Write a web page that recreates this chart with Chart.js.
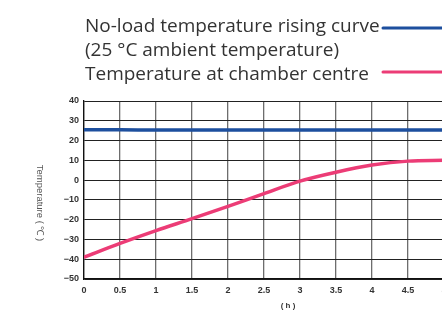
<!DOCTYPE html>
<html>
<head>
<meta charset="utf-8">
<script src="https://cdn.jsdelivr.net/npm/chart.js@4"></script>
<style>
html,body{margin:0;padding:0;background:#fff;overflow:hidden;width:442px;height:311px;}
#wrap{position:absolute;left:0;top:0;width:460px;height:311px;}
</style>
</head>
<body>
<div id="wrap"><canvas id="c" width="460" height="311"></canvas></div>
<script>
// ---- data ----
const hours = [0, 0.5, 1, 1.5, 2, 2.5, 3, 3.5, 4, 4.5, 5];
const noLoadTemp = [25.5, 25.5, 25.3, 25.3, 25.3, 25.3, 25.3, 25.3, 25.3, 25.3, 25.3];
const chamberTemp = [-39, -32, -25.5, -19.5, -13.3, -6.8, -0.5, 4, 7.6, 9.6, 10];
const seriesNames = ["No-load temperature rising curve", "Temperature at chamber centre"];
const seriesNote = "(25 °C ambient temperature)";
const yTitle = "Temperature ( ℃ )";
const xTitle = "( h )";
const yTicks = [40, 30, 20, 10, 0, -10, -20, -30, -40, -50];
const xTicks = [0, 0.5, 1, 1.5, 2, 2.5, 3, 3.5, 4, 4.5, 5];

const BLUE = '#1d4f9e';
const PINK = '#ec3c76';

const extras = {
  id: 'extras',
  afterDraw(chart) {
    const ctx = chart.ctx;
    ctx.save();
    // legend text
    ctx.fillStyle = '#333';
    ctx.font = '19px "Open Sans", Lato, sans-serif';
    ctx.textBaseline = 'alphabetic';
    ctx.textAlign = 'left';
    ctx.fillText(seriesNames[0], 85, 32);
    ctx.fillText(seriesNote, 85, 56);
    ctx.fillText(seriesNames[1], 85, 80);
    ctx.lineCap = 'round';
    ctx.lineWidth = 3;
    ctx.strokeStyle = BLUE;
    ctx.beginPath(); ctx.moveTo(383, 28); ctx.lineTo(460, 28); ctx.stroke();
    ctx.strokeStyle = PINK;
    ctx.beginPath(); ctx.moveTo(383, 72); ctx.lineTo(460, 72); ctx.stroke();
    // y title rotated clockwise
    ctx.fillStyle = '#555';
    ctx.font = '9.5px "Liberation Sans", Arial, sans-serif';
    ctx.translate(40, 203);
    ctx.rotate(Math.PI / 2);
    ctx.textAlign = 'center';
    ctx.textBaseline = 'middle';
    ctx.fillText(yTitle, 0, 0);
    ctx.restore();
    // x title
    ctx.save();
    ctx.fillStyle = '#333';
    ctx.font = 'bold 8px "Liberation Sans", Arial, sans-serif';
    ctx.textAlign = 'center';
    ctx.textBaseline = 'middle';
    ctx.fillText(xTitle, 288, 306);
    ctx.restore();
  }
};

new Chart(document.getElementById('c'), {
  type: 'line',
  data: {
    datasets: [
      {
        label: seriesNames[0],
        data: hours.map((h, i) => ({x: h, y: noLoadTemp[i]})),
        borderColor: BLUE, backgroundColor: BLUE,
        borderWidth: 3.5, pointRadius: 0, tension: 0.4
      },
      {
        label: seriesNames[1],
        data: hours.map((h, i) => ({x: h, y: chamberTemp[i]})),
        borderColor: PINK, backgroundColor: PINK,
        borderWidth: 3.5, pointRadius: 0, tension: 0.4, cubicInterpolationMode: 'monotone'
      }
    ]
  },
  options: {
    responsive: false,
    animation: false,
    events: [],
    layout: { padding: { top: 101, right: 16, left: 0, bottom: 0 } },
    plugins: { legend: { display: false }, tooltip: { enabled: false } },
    scales: {
      x: {
        type: 'linear', min: 0, max: 5,
        afterFit(s) { s.height = 32; },
        afterBuildTicks(s) { s.ticks = xTicks.map(v => ({value: v})); },
        grid: { color: 'rgba(60,60,60,0.75)', lineWidth: 1.3, drawTicks: false },
        border: { color: '#111', width: 1.3 },
        ticks: {
          padding: 6, color: '#333', maxRotation: 0, autoSkip: false,
          font: { family: '"Liberation Sans", Arial, sans-serif', size: 9, weight: 'bold' },
          callback: v => String(v)
        }
      },
      y: {
        min: -50, max: 40,
        afterFit(s) { s.width = 84; },
        afterBuildTicks(s) { s.ticks = yTicks.map(v => ({value: v})); },
        grid: { color: '#222', lineWidth: 1, drawTicks: false },
        border: { color: '#111', width: 1.3 },
        ticks: {
          padding: 5, color: '#333', autoSkip: false,
          font: { family: '"Liberation Sans", Arial, sans-serif', size: 9, weight: 'bold' },
          callback: v => String(v).replace('-', '\u2212')
        }
      }
    }
  },
  plugins: [extras]
});
</script>
</body>
</html>
